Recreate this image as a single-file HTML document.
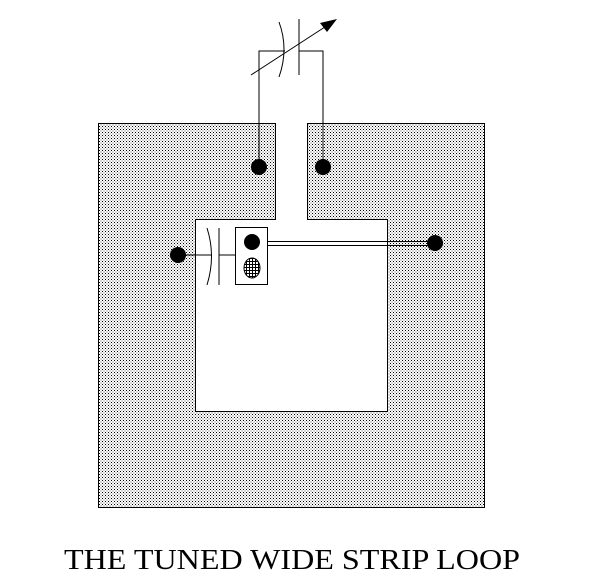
<!DOCTYPE html>
<html><head><style>html,body{margin:0;padding:0;background:#fff;}svg{display:block;}</style></head>
<body>
<svg width="600" height="587" viewBox="0 0 600 587" xmlns="http://www.w3.org/2000/svg">
<defs>
<pattern id="dots" width="3" height="3" patternUnits="userSpaceOnUse">
<rect width="3" height="3" fill="#fff"/>
<rect x="0" y="0" width="1" height="1" fill="#000"/>
<rect x="1.5" y="1.5" width="1" height="1" fill="#555"/>
</pattern>
<pattern id="grid" width="3" height="3" patternUnits="userSpaceOnUse">
<rect width="3" height="3" fill="#fff"/>
<rect width="3" height="1" fill="#000"/>
<rect width="1" height="3" fill="#000"/>
</pattern>
</defs>
<path d="M98.5 123.5 H275.5 V219.5 H195.5 V411.5 H387.5 V219.5 H307.5 V123.5 H484.5 V507.5 H98.5 Z" fill="url(#dots)" stroke="#000" stroke-width="1"/>
<!-- top capacitor -->
<polyline points="259,167 259,51 285,51" fill="none" stroke="#000"/>
<polyline points="323,167 323,51 299,51" fill="none" stroke="#000"/>
<line x1="299" y1="19" x2="299" y2="75" stroke="#000"/>
<path d="M279 22 Q289 49 279 77" fill="none" stroke="#000"/>
<line x1="251" y1="75" x2="328" y2="25" stroke="#000"/>
<polygon points="337,19 320,23 327,32" fill="#000"/>
<circle cx="259" cy="167" r="8"/>
<circle cx="323" cy="167" r="8"/>
<!-- lower capacitor -->
<line x1="178" y1="255" x2="211" y2="255" stroke="#000"/>
<path d="M207 228 Q216 256 207 285" fill="none" stroke="#000"/>
<line x1="219" y1="228" x2="219" y2="285" stroke="#000"/>
<line x1="219" y1="255" x2="235" y2="255" stroke="#000"/>
<circle cx="178" cy="255" r="8"/>
<rect x="235.5" y="227.5" width="32" height="57" fill="#fff" stroke="#000"/>
<circle cx="252" cy="242" r="8"/>
<ellipse cx="252" cy="268" rx="8" ry="10" fill="url(#grid)" stroke="#000"/>
<line x1="267" y1="241.5" x2="435" y2="241.5" stroke="#000"/>
<line x1="267" y1="245.5" x2="435" y2="245.5" stroke="#000"/>
<circle cx="435" cy="243" r="8"/>
<text x="64" y="569" font-family="Liberation Serif, serif" font-size="29" textLength="456" lengthAdjust="spacingAndGlyphs">THE TUNED WIDE STRIP LOOP</text>
</svg>
</body></html>
